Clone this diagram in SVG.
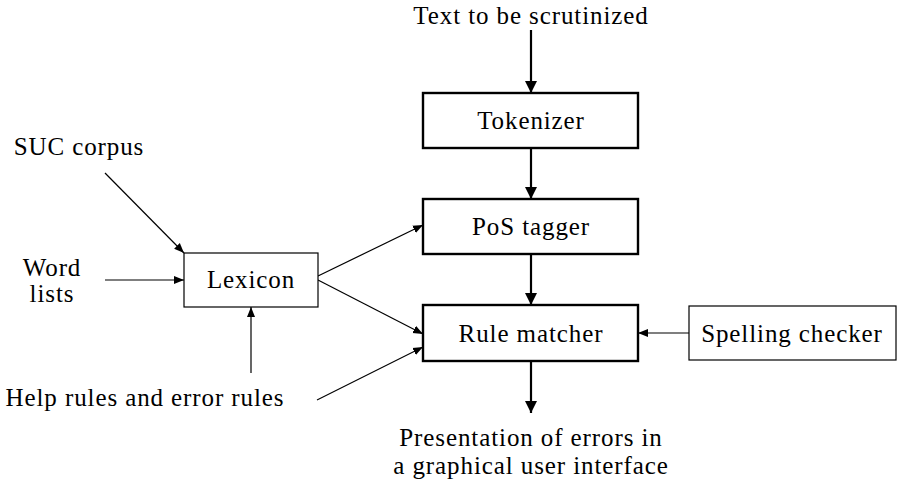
<svg xmlns="http://www.w3.org/2000/svg" width="897" height="486" viewBox="0 0 897 486">
<defs>
<marker id="ah" viewBox="0 0 10 10" refX="10" refY="5" markerWidth="10" markerHeight="10" markerUnits="userSpaceOnUse" orient="auto"><path d="M0,1 L10,5 L0,9 Z" fill="#000"/></marker>
<marker id="ahb" viewBox="0 0 10 10" refX="10" refY="5" markerWidth="16" markerHeight="12" markerUnits="userSpaceOnUse" orient="auto"><path d="M0,0 L10,5 L0,10 Z" fill="#000"/></marker>
</defs>
<style>
text{font-family:'Liberation Serif','DejaVu Serif',serif;font-size:25px;letter-spacing:0.9px;fill:#000;text-anchor:middle}
.thick{fill:#fff;stroke:#000;stroke-width:2.4}
.thin{fill:#fff;stroke:#000;stroke-width:1.2}
.c1{stroke:#000;stroke-width:1.2;fill:none;marker-end:url(#ah)}
.c2{stroke:#000;stroke-width:2.2;fill:none;marker-end:url(#ahb)}
</style>
<rect width="897" height="486" fill="#fff"/>
<g id="connectors">
<line class="c2" x1="531" y1="30" x2="531" y2="93"/>
<line class="c2" x1="531" y1="148" x2="531" y2="199"/>
<line class="c2" x1="531" y1="254" x2="531" y2="305"/>
<line class="c2" x1="531" y1="361" x2="531" y2="413"/>
<line class="c1" x1="105" y1="173" x2="184" y2="253"/>
<line class="c1" x1="105" y1="280" x2="184" y2="280"/>
<line class="c1" x1="251" y1="373" x2="251" y2="307"/>
<line class="c1" x1="318" y1="276" x2="423" y2="225"/>
<line class="c1" x1="318" y1="280" x2="423" y2="334"/>
<line class="c1" x1="317" y1="400" x2="423" y2="347"/>
<line class="c1" x1="689" y1="333" x2="638" y2="333"/>
</g>
<g id="input"><text x="531" y="24">Text to be scrutinized</text></g>
<g id="tokenizer"><rect class="thick" x="423" y="93" width="215" height="55"/><text x="531" y="129">Tokenizer</text></g>
<g id="postagger"><rect class="thick" x="423" y="199" width="215" height="55"/><text x="531" y="235">PoS tagger</text></g>
<g id="rulematcher"><rect class="thick" x="423" y="305" width="215" height="56"/><text x="531" y="342">Rule matcher</text></g>
<g id="spelling"><rect class="thin" x="689" y="306" width="207" height="54"/><text x="792" y="342">Spelling checker</text></g>
<g id="lexicon"><rect class="thin" x="184" y="253" width="134" height="54"/><text x="251" y="288">Lexicon</text></g>
<g id="suc"><text x="79" y="155">SUC corpus</text></g>
<g id="wordlists"><text x="52" y="276">Word</text><text x="52" y="302">lists</text></g>
<g id="helprules"><text x="145" y="406">Help rules and error rules</text></g>
<g id="output"><text x="531" y="446">Presentation of errors in</text><text x="531" y="474">a graphical user interface</text></g>
</svg>
